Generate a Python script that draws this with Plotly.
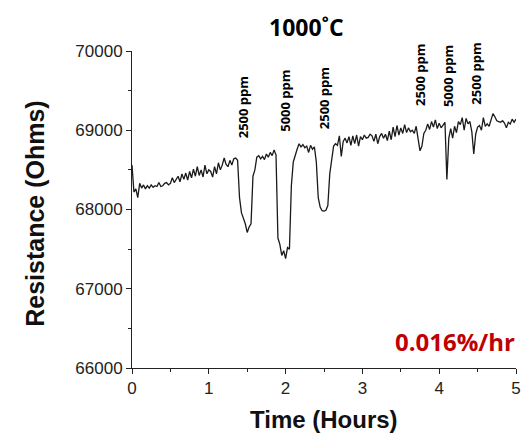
import plotly.graph_objects as go

time_hours = [
    0.000, 0.025, 0.050, 0.075, 0.100, 0.125, 0.150, 0.175, 0.200, 0.225,
    0.250, 0.275, 0.300, 0.325, 0.350, 0.375, 0.400, 0.425, 0.450, 0.475,
    0.500, 0.525, 0.550, 0.575, 0.600, 0.625, 0.650, 0.675, 0.700, 0.725,
    0.750, 0.775, 0.800, 0.825, 0.850, 0.875, 0.900, 0.925, 0.950, 0.975,
    1.000, 1.025, 1.050, 1.075, 1.100, 1.125, 1.150, 1.175, 1.200, 1.225,
    1.250, 1.275, 1.300, 1.325, 1.350, 1.375, 1.400, 1.425, 1.450, 1.475,
    1.500, 1.525, 1.550, 1.575, 1.600, 1.625, 1.650, 1.675, 1.700, 1.725,
    1.750, 1.775, 1.800, 1.825, 1.850, 1.875, 1.900, 1.925, 1.950, 1.975,
    2.000, 2.025, 2.050, 2.075, 2.100, 2.125, 2.150, 2.175, 2.200, 2.225,
    2.250, 2.275, 2.300, 2.325, 2.350, 2.375, 2.400, 2.425, 2.450, 2.475,
    2.500, 2.525, 2.550, 2.575, 2.600, 2.625, 2.650, 2.675, 2.700, 2.725,
    2.750, 2.775, 2.800, 2.825, 2.850, 2.875, 2.900, 2.925, 2.950, 2.975,
    3.000, 3.025, 3.050, 3.075, 3.100, 3.125, 3.150, 3.175, 3.200, 3.225,
    3.250, 3.275, 3.300, 3.325, 3.350, 3.375, 3.400, 3.425, 3.450, 3.475,
    3.500, 3.525, 3.550, 3.575, 3.600, 3.625, 3.650, 3.675, 3.700, 3.725,
    3.750, 3.775, 3.800, 3.825, 3.850, 3.875, 3.900, 3.925, 3.950, 3.975,
    4.000, 4.025, 4.050, 4.075, 4.100, 4.125, 4.150, 4.175, 4.200, 4.225,
    4.250, 4.275, 4.300, 4.325, 4.350, 4.375, 4.400, 4.425, 4.450, 4.475,
    4.500, 4.525, 4.550, 4.575, 4.600, 4.625, 4.650, 4.675, 4.700, 4.725,
    4.750, 4.775, 4.800, 4.825, 4.850, 4.875, 4.900, 4.925, 4.950, 4.975,
    5.000,
]

resistance_ohms = [
    68560, 68220, 68260, 68150, 68330, 68270, 68310, 68260, 68300, 68270,
    68310, 68280, 68300, 68290, 68340, 68290, 68300, 68330, 68340, 68310,
    68330, 68400, 68340, 68380, 68420, 68350, 68450, 68380, 68460, 68370,
    68480, 68400, 68510, 68420, 68540, 68430, 68500, 68410, 68560, 68450,
    68500, 68480, 68410, 68540, 68450, 68590, 68500, 68560, 68650, 68570,
    68540, 68620, 68560, 68640, 68650, 68620, 68150, 67960, 67900, 67820,
    67710, 67780, 67820, 68420, 68500, 68660, 68680, 68640, 68670, 68630,
    68700, 68660, 68720, 68680, 68750, 68690, 67640, 67560, 67420, 67480,
    67380, 67520, 67500, 68300, 68600, 68700, 68760, 68830, 68790, 68820,
    68780, 68800, 68720, 68810, 68760, 68790, 68600, 68150, 68030, 67985,
    67980, 67990, 68050, 68450, 68600, 68800, 68830, 68810, 68930, 68670,
    68860, 68900, 68840, 68920, 68810, 68930, 68830, 68940, 68800, 68920,
    68880, 68940, 68900, 68910, 68950, 68930, 68860, 68950, 68830, 68920,
    68960, 68900, 68950, 68870, 68990, 68880, 69040, 68920, 69060, 68940,
    69030, 68960, 69070, 68970, 69030, 68980, 69000, 68960, 69050, 68900,
    68740, 68800, 68960, 69000, 69080, 69010, 69110, 69040, 69130, 69020,
    69090, 69030, 69070, 69100, 68380, 68900, 69020, 68900, 69050, 68970,
    69110, 69070, 69160, 69000, 69150, 69080, 69110, 68980, 68700, 68950,
    69040, 69060, 69000, 69160, 69050, 69080, 69050, 69130, 69210, 69170,
    69120, 69110, 69100, 69120, 69090, 69030, 69100, 69080, 69140, 69100,
    69140,
]

label_texts = ["2500 ppm", "5000 ppm", "2500 ppm", "2500 ppm", "5000 ppm", "2500 ppm"]
label_times = [1.445, 1.99, 2.496, 3.752, 4.124, 4.475]
label_values = [69290, 69370, 69400, 69700, 69680, 69710]

x_tick_vals = [0, 1, 2, 3, 4, 5]
x_tick_text = ["0", "1", "2", "3", "4", "5"]
y_tick_vals = [66000, 67000, 68000, 69000, 70000]
y_tick_text = ["66000", "67000", "68000", "69000", "70000"]

fig = go.Figure()
fig.add_trace(go.Scatter(
    x=time_hours, y=resistance_ohms, mode="lines",
    line=dict(color="#1a1a1a", width=1.3), showlegend=False,
))

for txt, t, v in zip(label_texts, label_times, label_values):
    fig.add_annotation(x=t, y=v, text=f"<b>{txt}</b>", showarrow=False,
                       textangle=-90, xanchor="center", yanchor="middle",
                       font=dict(family="Open Sans", size=13, color="black"))

fig.add_annotation(x=4.2, y=66330, text="<b>0.016%/hr</b>", showarrow=False,
                   xanchor="center", yanchor="middle",
                   font=dict(family="Open Sans", size=24, color="#c00000"))

fig.add_annotation(x=2.27, y=1.075, yref="paper", text="<b>1000˚C</b>", showarrow=False,
                   xanchor="center", yanchor="middle",
                   font=dict(family="Open Sans", size=23, color="black"))

fig.add_annotation(x=-0.253, y=0.486, xref="paper", yref="paper",
                   text="<b>Resistance (Ohms)</b>", showarrow=False, textangle=-90,
                   xanchor="center", yanchor="middle",
                   font=dict(family="Liberation Sans", size=25, color="#111"))

fig.add_annotation(x=0.5, y=-0.162, xref="paper", yref="paper",
                   text="<b>Time (Hours)</b>", showarrow=False,
                   xanchor="center", yanchor="middle",
                   font=dict(family="Liberation Sans", size=24, color="#111"))

fig.update_layout(
    width=523, height=426,
    margin=dict(l=124, r=10, t=43, b=66),
    paper_bgcolor="white", plot_bgcolor="white",
    xaxis=dict(range=[0, 5], tickvals=x_tick_vals, ticktext=x_tick_text,
               showgrid=False, zeroline=False,
               showline=True, linecolor="#222", linewidth=1,
               ticks="outside", ticklen=5, tickcolor="#222",
               minor=dict(dtick=0.5, ticks="outside", ticklen=3, tickcolor="#222"),
               tickfont=dict(family="Liberation Sans", size=17, color="#222")),
    yaxis=dict(range=[66000, 70000], tickvals=y_tick_vals, ticktext=y_tick_text,
               showgrid=False, zeroline=False,
               showline=True, linecolor="#222", linewidth=1,
               ticks="outside", ticklen=5, tickcolor="#222",
               minor=dict(dtick=500, ticks="outside", ticklen=3, tickcolor="#222"),
               tickfont=dict(family="Liberation Sans", size=17, color="#222")),
)

fig.write_html("out.html")
